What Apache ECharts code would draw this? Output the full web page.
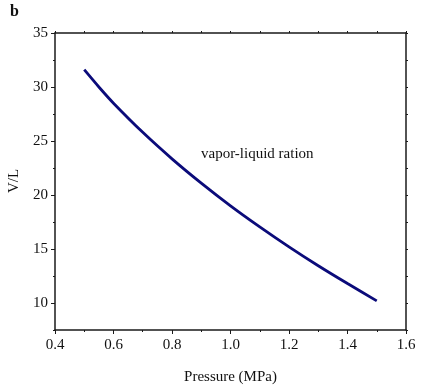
<!DOCTYPE html>
<html>
<head>
<meta charset="UTF-8">
<title>vapor-liquid ratio</title>
<script type="text/javascript" src="https://cdn.jsdelivr.net/npm/echarts@6/dist/echarts.min.js"></script>
<style>
html, body { margin: 0; padding: 0; background: #fff; }
</style>
</head>
<body>
	<div id="chart" style="width: 424px; height: 391px;"></div>
	<script type="text/javascript">
	// data
	var pressure = [0.5, 0.55, 0.6, 0.7, 0.8, 0.9, 1.0, 1.1, 1.2, 1.3, 1.4, 1.5];
	var ratio = [31.6, 30.0, 28.5, 25.8, 23.35, 21.1, 19.0, 17.05, 15.2, 13.45, 11.8, 10.2];
	var xTicks = [0.4, 0.6, 0.8, 1.0, 1.2, 1.4, 1.6];
	var yTicks = [10, 15, 20, 25, 30, 35];

	var points = [];
	for (var i = 0; i < pressure.length; i++) {
		points.push([pressure[i], ratio[i]]);
	}

	var font = '"Liberation Serif", "Times New Roman", serif';
	var lineCol = '#1a1a1a';

	var chart = echarts.init(document.getElementById('chart'));
	var option = {
		animation: false,
		textStyle: { fontFamily: font },
		grid: [
			{ left: 55, right: 18, top: 33, bottom: 61 },
			// second grid only carries the labelled y ticks (10..35)
			{ left: 55, right: 18, top: 33, bottom: 88 }
		],
		graphic: [
			{ type: 'text', left: 10, top: 4, style: { text: 'b', font: 'bold 16px ' + font, fill: '#111' } },
			{ type: 'text', left: 201, top: 147, style: { text: 'vapor-liquid ration', font: '15px ' + font, fill: '#111' } },
			{ type: 'text', x: 14, y: 181, rotation: Math.PI / 2, style: { text: 'V/L', font: '15px ' + font, fill: '#111', align: 'center', verticalAlign: 'middle' } }
		],
		xAxis: [{
			gridIndex: 0,
			type: 'value',
			min: xTicks[0], max: xTicks[xTicks.length - 1], interval: 0.2,
			name: 'Pressure (MPa)', nameLocation: 'middle', nameGap: 40,
			nameTextStyle: { fontFamily: font, fontSize: 15, color: '#111' },
			axisLine: { onZero: false, lineStyle: { color: lineCol, width: 1.5 } },
			axisTick: { length: 4, lineStyle: { color: lineCol } },
			minorTick: { show: true, splitNumber: 2, length: 2, lineStyle: { color: lineCol } },
			axisLabel: { fontFamily: font, fontSize: 15, color: '#111', margin: 8,
				formatter: function (v) { return v.toFixed(1); } },
			splitLine: { show: false }
		}, {
			gridIndex: 0,
			type: 'value', position: 'top',
			min: xTicks[0], max: xTicks[xTicks.length - 1], interval: 0.1,
			axisLine: { onZero: false, lineStyle: { color: lineCol, width: 1.5 } },
			axisTick: { length: 2, lineStyle: { color: lineCol } },
			axisLabel: { show: false },
			splitLine: { show: false }
		}, {
			gridIndex: 1, type: 'value', show: false, min: 0.4, max: 1.6
		}],
		yAxis: [{
			gridIndex: 0,
			type: 'value',
			min: 7.5, max: yTicks[yTicks.length - 1], interval: 2.5,
			axisLine: { onZero: false, lineStyle: { color: lineCol, width: 1.5 } },
			axisTick: { length: 2, lineStyle: { color: lineCol } },
			axisLabel: { show: false },
			splitLine: { show: false }
		}, {
			gridIndex: 0,
			type: 'value', position: 'right',
			min: 7.5, max: yTicks[yTicks.length - 1], interval: 2.5,
			axisLine: { onZero: false, lineStyle: { color: lineCol, width: 1.5 } },
			axisTick: { length: 2, lineStyle: { color: lineCol } },
			axisLabel: { show: false },
			splitLine: { show: false }
		}, {
			gridIndex: 1,
			type: 'value',
			min: yTicks[0], max: yTicks[yTicks.length - 1], interval: 5,
			axisLine: { show: false },
			axisTick: { length: 4, lineStyle: { color: lineCol } },
			axisLabel: { fontFamily: font, fontSize: 15, color: '#111', margin: 7, align: 'right' },
			splitLine: { show: false }
		}],
		series: [{
			type: 'line',
			xAxisIndex: 0, yAxisIndex: 0,
			data: points,
			smooth: 0.25,
			showSymbol: false,
			lineStyle: { color: '#0b0b7a', width: 2.8 }
		}]
	};
	chart.setOption(option);
	</script>
</body>
</html>
